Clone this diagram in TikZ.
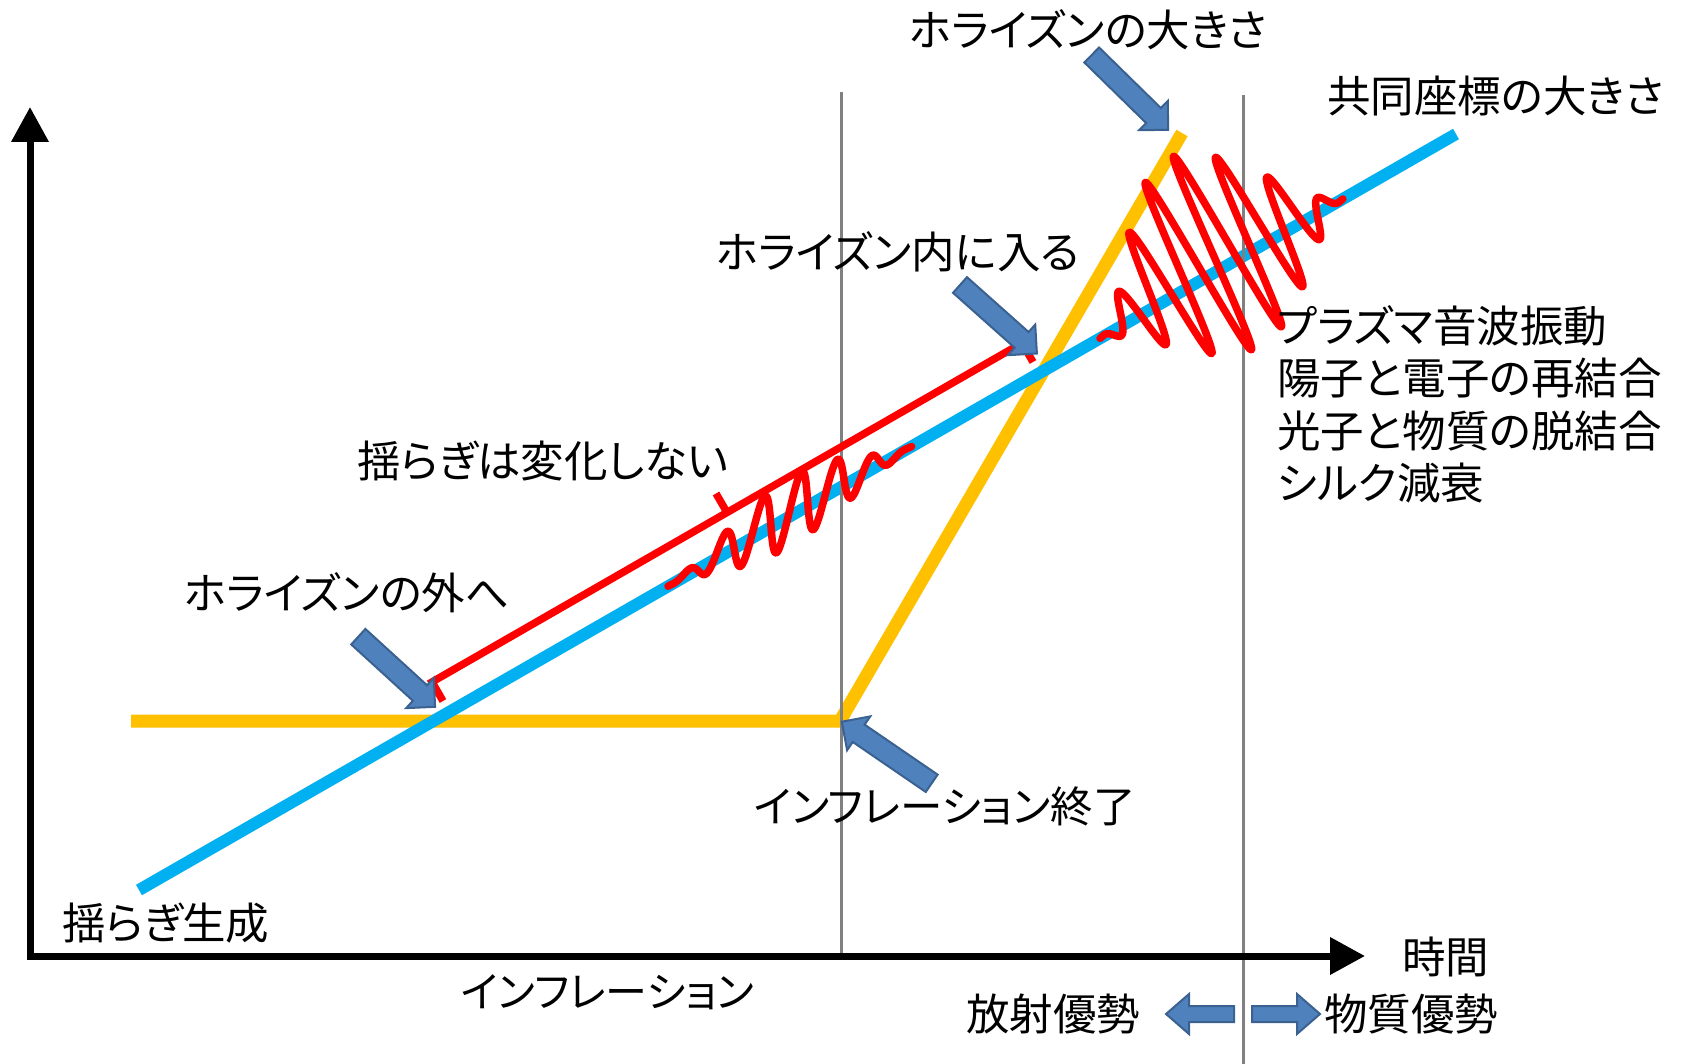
\documentclass[tikz,border=0pt]{standalone}
\usepackage{fontspec}
\newfontfamily\jp[RawFeature=+palt]{Noto Sans CJK JP}
\usetikzlibrary{arrows.meta}
\definecolor{cblue}{HTML}{00B0F0}
\definecolor{cyel}{HTML}{FFC000}
\definecolor{cred}{HTML}{FF0000}
\definecolor{afill}{HTML}{4F81BD}
\definecolor{aline}{HTML}{3A6190}
\definecolor{vgray}{HTML}{808080}
\tikzset{
  lbl/.style={font=\jp\fontsize{43.5}{52.5}\selectfont, inner sep=0pt, anchor=west, text=black},
  axisline/.style={line width=7pt, black, line join=miter},
  vline/.style={line width=3pt, vgray},
  yelline/.style={line width=13pt, cyel, line join=miter},
  bluline/.style={line width=12pt, cblue},
  redline/.style={line width=7.5pt, cred, line join=miter},
  redwave/.style={line width=7.5pt, cred, line cap=round, line join=round},
  blockarrow/.style={fill=afill, draw=aline, line width=2pt, line join=miter},
  declare function={
    envw(\t)=sin(180*\t)*sqrt(abs(sin(180*\t)));
    fwa(\t)=envw(\t)*(-36*cos(360*6.6*(\t-0.078))-5);
    fwb(\t)=envw(\t)*(-104*cos(360*7.5*(\t-0.53))-18);
  }
}
\newcommand{\blkarrow}[7]{%
\begin{scope}[shift={(#1,#2)},rotate=#3]
\filldraw[blockarrow] (0,{-#5/2}) -- ({#4-#7},{-#5/2}) -- ({#4-#7},{-#6/2}) -- (#4,0) -- ({#4-#7},{#6/2}) -- ({#4-#7},{#5/2}) -- (0,{#5/2}) -- cycle;
\end{scope}}
\begin{document}
\begin{tikzpicture}[x=1pt,y=-1pt]
\fill[white] (0,0) rectangle (1681,1064);
\useasboundingbox (0,0) rectangle (1681,1064);

% coordinates
\coordinate (O) at (30,956);
\coordinate (ytop) at (30,107);
\coordinate (xend) at (1365,956);
\coordinate (v1t) at (841,92);
\coordinate (v1b) at (841,956);
\coordinate (v2t) at (1243,95);
\coordinate (v2b) at (1243,1064);
\coordinate (y1) at (131,721);
\coordinate (y2) at (840,721);
\coordinate (y3) at (1182,133);
\coordinate (b1) at (139,890);
\coordinate (b2) at (1456,134);
\coordinate (brL) at (443,701);
\coordinate (brLc) at (432,682);
\coordinate (brRc) at (1022,343);
\coordinate (brR) at (1033,362);
\coordinate (brM) at (727,512.5);
\coordinate (brMt) at (716,493.5);

% horizon and comoving lines
\draw[yelline] (y1) -- (y2) -- (y3);
\draw[bluline] (b1) -- (b2);

% vertical epoch lines
\draw[vline] (v1t) -- (v1b);
\draw[vline] (v2t) -- (v2b);

% axes
\draw[axisline, {Triangle[length=35pt,width=36pt]}-{Triangle[length=35pt,width=36pt]}] (ytop) -- (O) -- (xend);

% red bracket
\draw[redline] (brL) -- (brLc) -- (brRc) -- (brR);
\draw[redline] (brM) -- (brMt);

% waves
\draw[redwave] plot[domain=0:1, samples=400]
  ({668 + \x*244 - 0.1*fwa(\x)}, {586.3 - \x*140 + 0.995*fwa(\x)});
\draw[redwave] plot[domain=0:1, samples=500]
  ({1100 + \x*243 + 0.455*fwb(\x)}, {338.4 - \x*139.5 + 0.892*fwb(\x)});

% block arrows
\blkarrow{1091.7}{55}{-44.4}{107}{21}{41}{20.5}
\blkarrow{960}{285}{-41.7}{103}{21}{41}{20.5}
\blkarrow{358.3}{636.7}{-42.4}{104}{21}{41}{20.5}
\blkarrow{931.7}{783.3}{145.6}{109}{21}{41}{20.5}
\blkarrow{1234}{1014}{180}{68}{16}{40}{23}
\blkarrow{1252}{1014}{0}{68}{16}{40}{23}

% labels
\node[lbl] (hsize) at (909,30) {ホライズンの大きさ};
\node[lbl] (comov) at (1327,96) {共同座標の大きさ};
\node[lbl] (enter) at (716,252) {ホライズン内に入る};
\node[lbl] (nochange) at (357,461) {揺らぎは変化しない};
\node[lbl] (exit) at (184,593) {ホライズンの外へ};
\node[lbl, font=\jp\fontsize{42.5}{52.5}\selectfont] (infend) at (754,806) {インフレーション終了};
\node[lbl] (gen) at (62,923) {揺らぎ生成};
\node[lbl, font=\jp\fontsize{42}{52.5}\selectfont] (infl) at (461,992) {インフレーション};
\node[lbl] (time) at (1402,957) {時間};
\node[lbl] (rad) at (966,1014) {放射優勢};
\node[lbl] (mat) at (1324,1014) {物質優勢};
\node[lbl, align=left] (phys) at (1277,404.5) {プラズマ音波振動\\陽子と電子の再結合\\光子と物質の脱結合\\シルク減衰};
\end{tikzpicture}
\end{document}
